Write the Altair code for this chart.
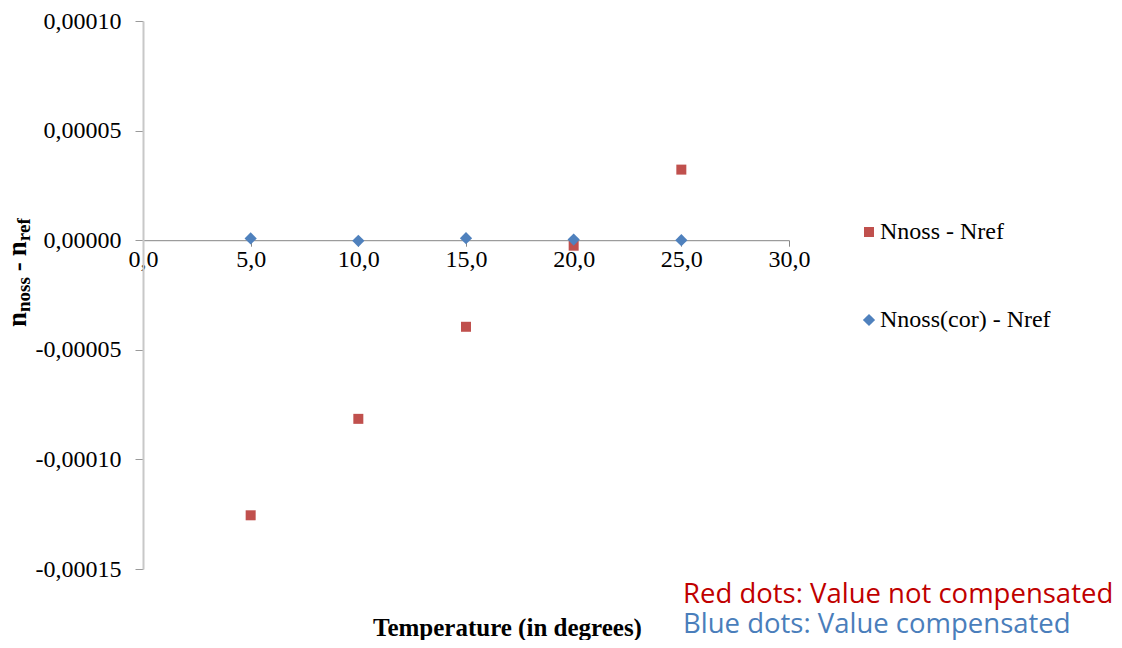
import altair as alt
import pandas as pd

# ---- data ----
temps = [5.0, 10.0, 15.0, 20.0, 25.0]
red_vals = [-0.0001255, -0.0000815, -0.0000395, -0.0000025, 0.0000322]
blue_vals = [0.0000008, -0.0000003, 0.0000009, 0.0000003, 0.0000000]
series_names = ["Nnoss - Nref", "Nnoss(cor) - Nref"]
series_colors = ["#C0504D", "#4F81BD"]
series_shapes = ["square", "diamond"]
series_sizes = [100, 150]
x_ticks = [0, 5, 10, 15, 20, 25, 30]
y_ticks = [-0.00015, -0.0001, -0.00005, 0.0, 0.00005, 0.0001]

rows = []
for t, v in zip(temps, red_vals):
    rows.append({"T": t, "v": v, "series": series_names[0]})
for t, v in zip(temps, blue_vals):
    rows.append({"T": t, "v": v, "series": series_names[1]})
df = pd.DataFrame(rows)

W, H = 646, 548
PAD_L, PAD_T = 135, 13
PAD_R = 1106 - PAD_L - W
PAD_B = 632 - PAD_T - H
X0 = 8 + PAD_L   # page x of plot origin
Y0 = 8 + PAD_T   # page y of plot origin

ymin, ymax = -0.00015, 0.0001
zero_from_bottom = H * (0 - ymin) / (ymax - ymin)

serif = "Liberation Serif"

legend = alt.Legend(
    orient="none", legendX=868 - X0 - 11, legendY=232 - Y0 - 12, title=None,
    labelFont=serif, labelFontSize=24, labelColor="black", labelLimit=0,
    symbolSize=55, rowPadding=64, labelOffset={"expr": "-1"}, symbolStrokeWidth=0,
)

points = alt.Chart(df).mark_point(filled=True, opacity=1).encode(
    x=alt.X("T:Q", scale=alt.Scale(domain=[0, 30], nice=False, zero=False),
            axis=alt.Axis(values=x_ticks, offset=-zero_from_bottom, title=None, grid=False,
                          labelExpr="replace(format(datum.value, '.1f'), '.', ',')",
                          labelFont=serif, labelFontSize=24, labelColor="black",
                          labelFlush=False, labelOverlap=False, labelPadding=1,
                          tickSize=6, tickColor="#868686", domainColor="#868686",
                          domainWidth=1)),
    y=alt.Y("v:Q", scale=alt.Scale(domain=[ymin, ymax], nice=False, zero=False),
            axis=alt.Axis(values=y_ticks, title=None, grid=False,
                          labelExpr="(datum.value < 0 ? '-' : '') + replace(format(abs(datum.value), '.5f'), '.', ',')",
                          labelFont=serif, labelFontSize=24, labelColor="black",
                          labelFlush=False, labelOverlap=False, labelPadding=14,
                          tickSize=8, tickColor="#9a9a9a", domainColor="#c8c8c8",
                          domainWidth=2)),
    color=alt.Color("series:N", scale=alt.Scale(domain=series_names, range=series_colors), legend=legend),
    shape=alt.Shape("series:N", scale=alt.Scale(domain=series_names, range=series_shapes), legend=legend),
    size=alt.Size("series:N", scale=alt.Scale(domain=series_names, range=series_sizes), legend=None),
)

def txt(s, px, py, size, color="black", font=serif, weight="normal", angle=0):
    return alt.Chart(pd.DataFrame({"t": [s]})).mark_text(
        align="left", baseline="alphabetic", font=font, fontSize=size,
        fontWeight=weight, color=color, angle=angle,
    ).encode(x=alt.value(px - X0), y=alt.value(py - Y0), text="t:N")

# y-axis title: n_noss - n_ref, drawn as rotated pieces (text, size, baseline x, advance px)
MAIN, SUB = 27, 19
bx_main, bx_sub = 26, 30
y_start = 327
pieces = [
    ("n", MAIN, bx_main, 0.556 * MAIN),
    ("noss", SUB, bx_sub, 1.834 * SUB + 6),
    ("-", MAIN, bx_main, 0.333 * MAIN + 6),
    ("n", MAIN, bx_main, 0.556 * MAIN),
    ("ref", SUB, bx_sub, 1.221 * SUB),
]
ytitle_layers = []
cur = y_start
for s, fs, bx, adv in pieces:
    ytitle_layers.append(txt(s, bx, cur, fs, weight="bold", angle=270))
    cur -= adv

xtitle = txt("Temperature (in degrees)", 373, 636, 25, weight="bold")
note_red = txt("Red dots: Value not compensated", 683, 603, 27.5, color="#C00000", font="Open Sans")
note_blue = txt("Blue dots: Value compensated", 683, 633, 27.5, color="#4A7EBB", font="Open Sans")

chart = alt.layer(points, *ytitle_layers, xtitle, note_red, note_blue).properties(
    width=W, height=H,
    autosize=alt.AutoSizeParams(type="none"),
    padding={"left": PAD_L, "top": PAD_T, "right": PAD_R, "bottom": PAD_B},
    background="white",
).configure_view(stroke=None)

chart.save("out.html", embed_options={"renderer": "svg", "actions": False})
